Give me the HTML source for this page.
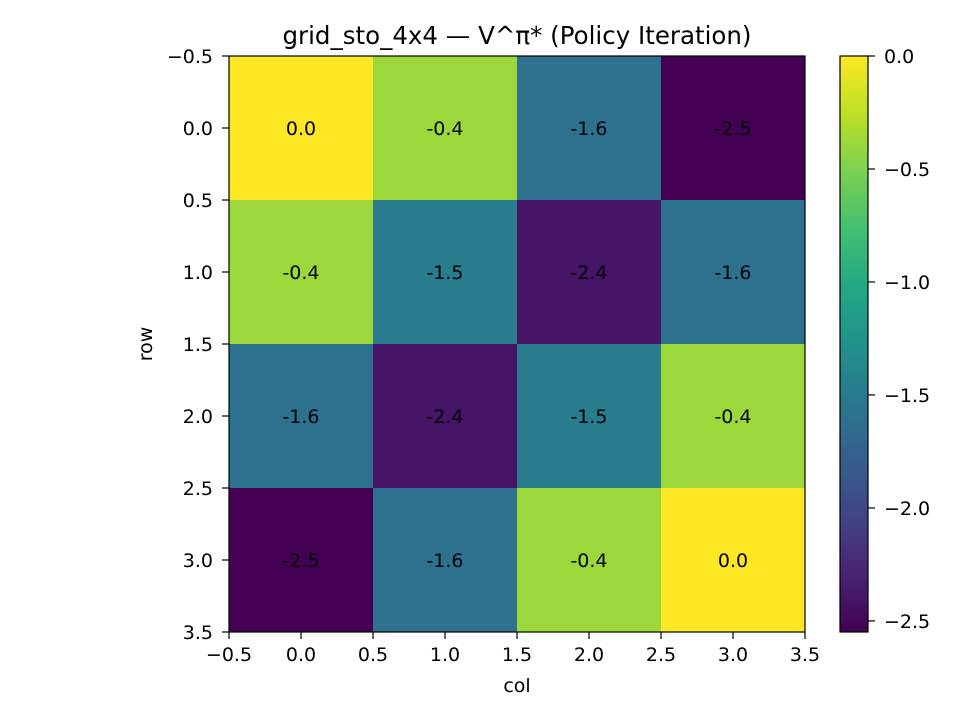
<!DOCTYPE html>
<html><head><meta charset="utf-8"><style>
body{margin:0;background:#fff;}
svg text{font-family:"DejaVu Sans","Liberation Sans",sans-serif;fill:#000;}
</style></head><body>
<svg id="c" width="960" height="720" xmlns="http://www.w3.org/2000/svg">
<text x="517" y="44" font-size="24.5" text-anchor="middle">grid_sto_4x4 — V^π* (Policy Iteration)</text>
<text x="517" y="692" font-size="19" text-anchor="middle">col</text>
<text x="152" y="344" font-size="19" text-anchor="middle" transform="rotate(-90 152 344)">row</text>
</svg>
<script>
const rows=[0,1,2,3];
const cols=[0,1,2,3];
const values=[
 [0.0,-0.38,-1.6,-2.549],
 [-0.38,-1.5,-2.4,-1.6],
 [-1.6,-2.4,-1.5,-0.38],
 [-2.549,-1.6,-0.38,0.0]];
const axisTicks=[-0.5,0.0,0.5,1.0,1.5,2.0,2.5,3.0,3.5];
const cbTicks=[0.0,-0.5,-1.0,-1.5,-2.0,-2.5];
const vmin=-2.549, vmax=0.0;
const NS="http://www.w3.org/2000/svg";
const svg=document.getElementById('c');
const L=229,T=56,S=576,FS=19;
const xs=v=>L+(v+0.5)/4*S, ys=v=>T+(v+0.5)/4*S;
const vir=["#440154","#482475","#414487","#355f8d","#2a788e","#21918c","#22a884","#44bf70","#7ad151","#bddf26","#fde725"];
function hex(h){return [1,3,5].map(i=>parseInt(h.substr(i,2),16));}
function cmap(v){let t=(v-vmin)/(vmax-vmin);t=Math.max(0,Math.min(1,t))*10;const i=Math.min(9,Math.floor(t)),f=t-i;
 const a=hex(vir[i]),b=hex(vir[i+1]);return "rgb("+a.map((x,k)=>Math.round(x+(b[k]-x)*f)).join(",")+")";}
function el(tag,at,txt){const e=document.createElementNS(NS,tag);for(const k in at)e.setAttribute(k,at[k]);if(txt!==undefined)e.textContent=txt;svg.appendChild(e);return e;}
function fmt(v){return v<0?"−"+Math.abs(v).toFixed(1):v.toFixed(1);}
rows.forEach(r=>cols.forEach(c=>{
 const v=values[r][c];
 const rc=el('rect',{x:xs(c-0.5),y:ys(r-0.5),width:xs(c+0.5)-xs(c-0.5),height:ys(r+0.5)-ys(r-0.5),fill:cmap(v)});
 
 
 const t=el('text',{x:xs(c),y:ys(r)+7,'font-size':FS,'text-anchor':'middle'},(Math.round(v*10)/10).toFixed(1).replace("-0.0","0.0"));
 
 
}));
el('rect',{x:L,y:T,width:S,height:S,fill:'none',stroke:'#000','stroke-width':1.2});
axisTicks.forEach(v=>{
 const x=xs(v);el('line',{x1:x,x2:x,y1:T+S,y2:T+S+7,stroke:'#000','stroke-width':1.2});
 const t=el('text',{x:x,y:T+S+29,'font-size':FS,'text-anchor':'middle'},fmt(v));
 
 
 const y=ys(v);el('line',{x1:L-7,x2:L,y1:y,y2:y,stroke:'#000','stroke-width':1.2});
 const t2=el('text',{x:L-16,y:y+7,'font-size':FS,'text-anchor':'end'},fmt(v));
 
 
});
const CX=840,CW=28,cy=v=>T+(vmax-v)/(vmax-vmin)*S;
const defs=el('defs',{});const g=document.createElementNS(NS,'linearGradient');g.setAttribute('id','vg');g.setAttribute('x1','0');g.setAttribute('y1','1');g.setAttribute('x2','0');g.setAttribute('y2','0');
vir.forEach((c,i)=>{const s=document.createElementNS(NS,'stop');s.setAttribute('offset',i/10);s.setAttribute('stop-color',c);g.appendChild(s);});defs.appendChild(g);
const cb=el('rect',{x:CX,y:T,width:CW,height:S,fill:'url(#vg)',stroke:'#000','stroke-width':1.2});


cbTicks.forEach(v=>{const y=cy(v);el('line',{x1:CX+CW,x2:CX+CW+7,y1:y,y2:y,stroke:'#000','stroke-width':1.2});
 const t=el('text',{x:CX+CW+16,y:y+7,'font-size':FS},fmt(v));
 
 });
</script>
</body></html>
